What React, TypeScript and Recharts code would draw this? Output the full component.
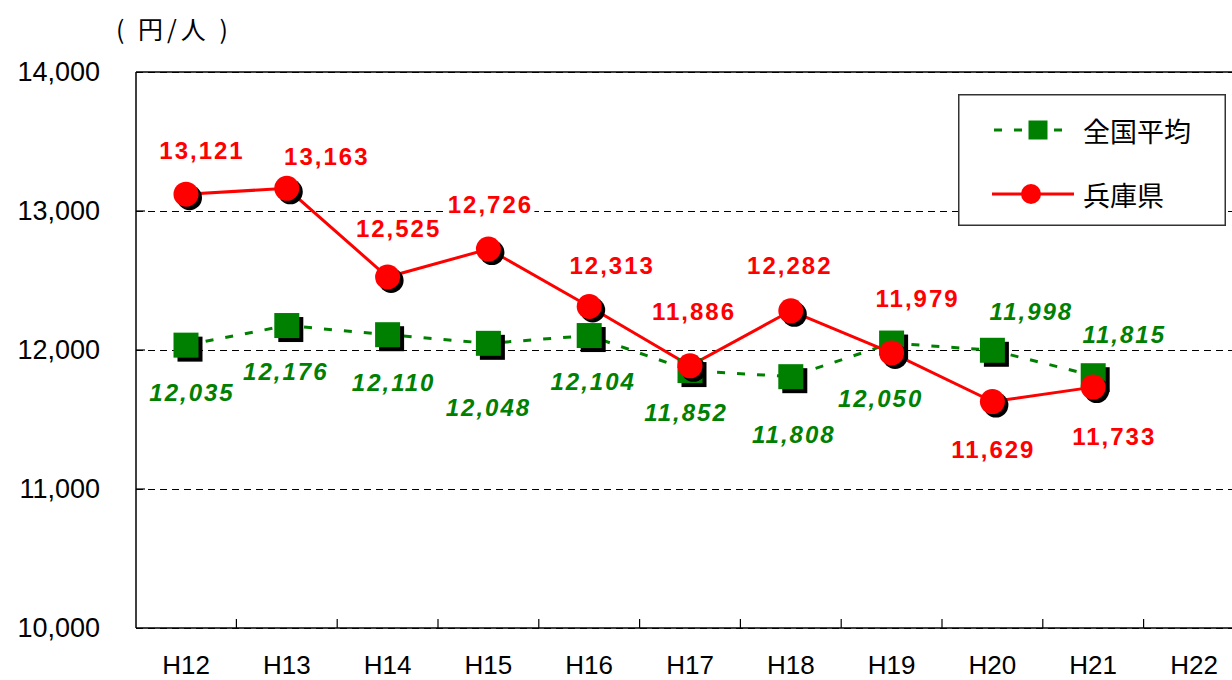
import React from 'react';
import { LineChart, Line, XAxis, YAxis, CartesianGrid, ReferenceLine, LabelList, Legend } from 'recharts';

const years = ['H12', 'H13', 'H14', 'H15', 'H16', 'H17', 'H18', 'H19', 'H20', 'H21', 'H22'];
const nationalAvg = [12035, 12176, 12110, 12048, 12104, 11852, 11808, 12050, 11998, 11815, null];
const hyogo = [13121, 13163, 12525, 12726, 12313, 11886, 12282, 11979, 11629, 11733, null];
const yTicks = [10000, 11000, 12000, 13000, 14000];

// label placement relative to each point (hand-placed in the original)
const hyogoLabelOffsets = [
  [15, -44], [39, -32], [10, -49], [1, -45], [22, -41],
  [3, -54], [-2, -45], [25, -54], [0, 48], [20, 49],
];
const nationalLabelOffsets = [
  [5, 47], [-2, 46], [5, 48], [-1, 64], [3, 46],
  [-5, 42], [2, 58], [-12, 55], [38, -39], [30, -41],
];

const data = years.map((y, i) => ({ year: y, national: nationalAvg[i], hyogo: hyogo[i] }));

const GREEN = '#008000';
const RED = '#ff0000';
const NUM_FONT = "'Liberation Sans', Arial, sans-serif";
const JP_FONT = "'Noto Sans CJK JP', sans-serif";
const BAND = 100.8;

const fmt = (v: number) => v.toLocaleString('en-US');

const SquareDot = (props: any) => {
  const { cx, cy, index } = props;
  if (cx == null || cy == null) return <g key={`sq-${index}`} />;
  const s = 25;
  return (
    <g key={`sq-${index}`}>
      <rect x={cx - s / 2 + 4} y={cy - s / 2 + 4} width={s} height={s} fill="#000" />
      <rect x={cx - s / 2} y={cy - s / 2} width={s} height={s} fill={GREEN} />
    </g>
  );
};

const CircleDot = (props: any) => {
  const { cx, cy, index } = props;
  if (cx == null || cy == null) return <g key={`ci-${index}`} />;
  return (
    <g key={`ci-${index}`}>
      <circle cx={cx + 3.5} cy={cy + 3.5} r={12.5} fill="#000" />
      <circle cx={cx} cy={cy} r={12.5} fill={RED} />
    </g>
  );
};

const makeLabel = (offsets: number[][], color: string, italic: boolean) => (props: any) => {
  const { x, y, value, index } = props;
  if (value == null || x == null || y == null) return null;
  const [dx, dy] = offsets[index] || [0, -40];
  const tx = x + dx;
  const ty = y + dy;
  return (
    <g key={`lbl-${color}-${index}`}>
      <rect x={tx - 45} y={ty - 12} width={90} height={24} fill="#fff" />
      <text
        x={tx + 1}
        y={ty}
        textAnchor="middle"
        dominantBaseline="central"
        fill={color}
        fontSize={24}
        fontWeight="bold"
        fontStyle={italic ? 'italic' : 'normal'}
        fontFamily={NUM_FONT}
        letterSpacing={2}
      >
        {fmt(value)}
      </text>
    </g>
  );
};

const YTick = (props: any) => {
  const { x, y, payload } = props;
  const v = payload.value;
  return (
    <g>
      {v !== 10000 && v !== 14000 && <line x1={x} y1={y} x2={x + 9} y2={y} stroke="#000" strokeWidth={1.2} />}
      <text x={x - 36} y={y} textAnchor="end" dominantBaseline="central" fontSize={27} fill="#000" fontFamily={NUM_FONT}>
        {fmt(v)}
      </text>
    </g>
  );
};

const XTick = (props: any) => {
  const { x, y, payload, index } = props;
  return (
    <g>
      {index < years.length - 1 && (
        <line x1={x + BAND / 2} y1={y} x2={x + BAND / 2} y2={y - 9} stroke="#000" strokeWidth={1.2} />
      )}
      <text
        x={x}
        y={y + 46}
        textAnchor="middle"
        fontSize={26}
        fill="#000"
        fontFamily="'Liberation Sans Narrow', 'Liberation Sans', Arial, sans-serif"
      >
        {payload.value}
      </text>
    </g>
  );
};

const LegendBox = () => (
  <svg width={268} height={132} style={{ display: 'block' }}>
    <rect x={0.75} y={0.75} width={266.5} height={130.5} fill="#fff" stroke="#333" strokeWidth={1.5} />
    <line x1={36} y1={36} x2={110} y2={36} stroke={GREEN} strokeWidth={3} strokeDasharray="8 12" />
    <rect x={70.5} y={26.5} width={19} height={19} fill={GREEN} />
    <text x={125} y={36} dominantBaseline="central" fontSize={27} fontFamily={JP_FONT} fill="#000">全国平均</text>
    <line x1={34} y1={100} x2={116} y2={100} stroke={RED} strokeWidth={3} />
    <circle cx={73} cy={100} r={10} fill={RED} />
    <text x={125} y={100} dominantBaseline="central" fontSize={27} fontFamily={JP_FONT} fill="#000">兵庫県</text>
  </svg>
);

const App: React.FC = () => {
  return (
    <div style={{ position: 'absolute', left: 0, top: 0, width: 1232, height: 680, overflow: 'hidden', background: '#fff' }}>
      <div
        style={{ position: 'absolute', left: 116, top: 10, fontSize: 25, fontFamily: JP_FONT, color: '#000', letterSpacing: 4, zIndex: 2 }}
      >
        ( 円/人 )
      </div>
      <LineChart width={1250} height={680} data={data} margin={{ top: 72, right: 6, bottom: 0, left: 0 }}>
        <CartesianGrid vertical={false} stroke="#000" strokeWidth={1} strokeDasharray="7 5" shapeRendering="crispEdges" />
        <ReferenceLine y={14000} stroke="#000" strokeWidth={1.5} />
        <XAxis
          dataKey="year"
          height={52}
          padding={{ left: 50, right: 50 }}
          axisLine={{ stroke: '#000', strokeWidth: 1.5 }}
          tickLine={false}
          tickSize={0}
          tickMargin={0}
          interval={0}
          tick={<XTick />}
        />
        <YAxis
          width={136}
          domain={[10000, 14000]}
          ticks={yTicks}
          interval={0}
          axisLine={{ stroke: '#000', strokeWidth: 1.5 }}
          tickLine={false}
          tickSize={0}
          tickMargin={0}
          tick={<YTick />}
        />
        <Legend
          layout="horizontal"
          verticalAlign="middle"
          align="center"
          wrapperStyle={{ position: 'absolute', left: 958, top: 94, width: 268, height: 132 }}
          content={() => <LegendBox />}
        />
        <Line
          dataKey="national"
          name="全国平均"
          stroke={GREEN}
          strokeWidth={3}
          strokeDasharray="8 12"
          dot={SquareDot}
          activeDot={false}
          isAnimationActive={false}
        >
          <LabelList dataKey="national" content={makeLabel(nationalLabelOffsets, GREEN, true)} />
        </Line>
        <Line
          dataKey="hyogo"
          name="兵庫県"
          stroke={RED}
          strokeWidth={3}
          dot={CircleDot}
          activeDot={false}
          isAnimationActive={false}
        >
          <LabelList dataKey="hyogo" content={makeLabel(hyogoLabelOffsets, RED, false)} />
        </Line>
      </LineChart>
    </div>
  );
};

export default App;
